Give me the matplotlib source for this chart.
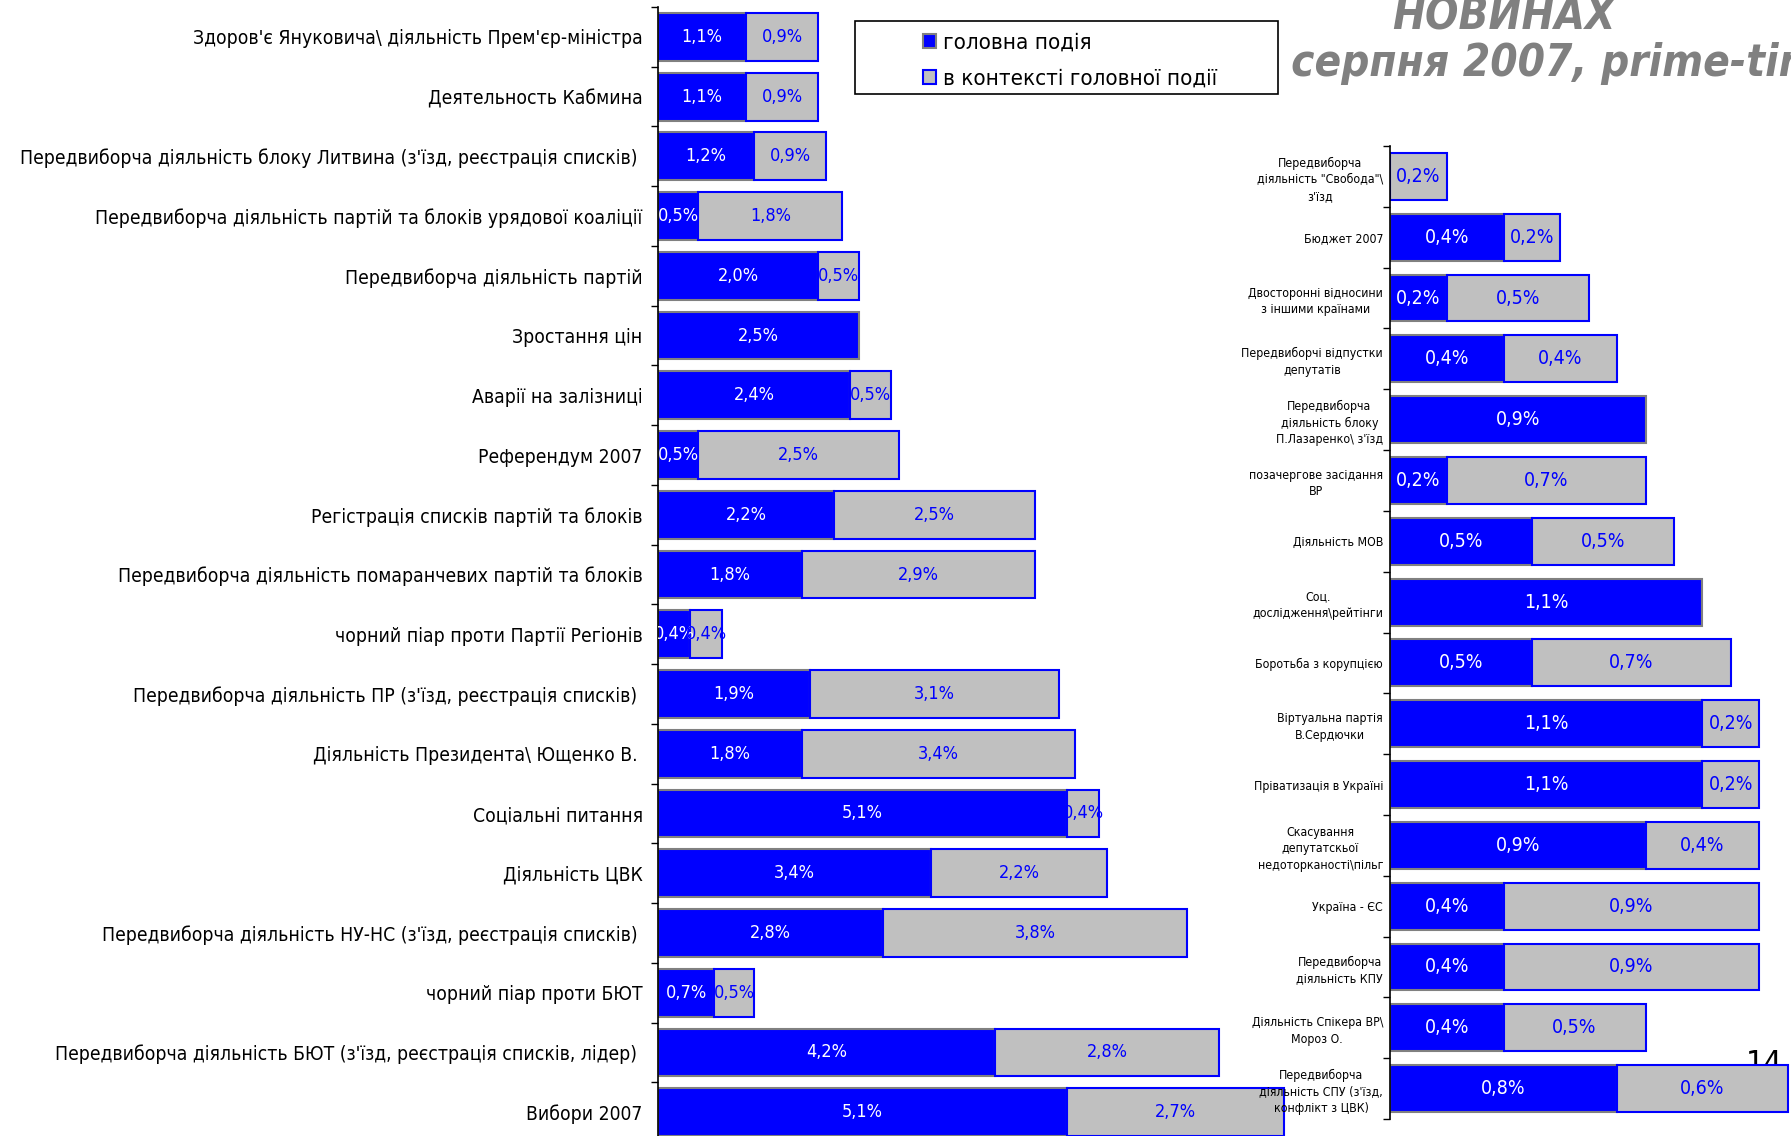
import matplotlib
matplotlib.use("Agg")
import matplotlib.pyplot as plt
import numpy as np
from matplotlib.patches import Patch, Rectangle

W, H = 1791, 1136

BLUE = "#0000FF"
GREY = "#C0C0C0"
EDGE_GREY = "#808080"
TITLE_GREY = "#808080"

left_labels = [
    "Здоров'є Януковича\\ діяльність Прем'єр-міністра",
    "Деятельность Кабмина",
    "Передвиборча діяльність блоку Литвина (з'їзд, реєстрація списків) ",
    "Передвиборча діяльність партій та блоків урядової коаліції",
    "Передвиборча діяльність партій",
    "Зростання цін",
    "Аварії на залізниці",
    "Референдум 2007",
    "Регістрація списків партій та блоків",
    "Передвиборча діяльність помаранчевих партій та блоків",
    "чорний піар проти Партії Регіонів",
    "Передвиборча діяльність ПР (з'їзд, реєстрація списків) ",
    "Діяльність Президента\\ Ющенко В. ",
    "Соціальні питання",
    "Діяльність ЦВК",
    "Передвиборча діяльність НУ-НС (з'їзд, реєстрація списків) ",
    "чорний піар проти БЮТ",
    "Передвиборча діяльність БЮТ (з'їзд, реєстрація списків, лідер) ",
    "Вибори 2007",
]
left_main = [1.1, 1.1, 1.2, 0.5, 2.0, 2.5, 2.4, 0.5, 2.2, 1.8,
             0.4, 1.9, 1.8, 5.1, 3.4, 2.8, 0.7, 4.2, 5.1]
left_context = [0.9, 0.9, 0.9, 1.8, 0.5, 0.0, 0.5, 2.5, 2.5, 2.9,
                0.4, 3.1, 3.4, 0.4, 2.2, 3.8, 0.5, 2.8, 2.7]

right_labels = [
    "Передвиборча\nдіяльність \"Свобода\"\\\nз'їзд",
    "Бюджет 2007",
    "Двосторонні відносини\nз іншими країнами",
    "Передвиборчі відпустки\nдепутатів",
    "Передвиборча\nдіяльність блоку\nП.Лазаренко\\ з'їзд",
    "позачергове засідання\nВР",
    "Діяльність МОВ",
    "Соц.\nдослідження\\рейтінги",
    "Боротьба з корупцією",
    "Віртуальна партія\nВ.Сердючки",
    "Пріватизація в Україні",
    "Скасування\nдепутатскьої\nнедоторканості\\пільг",
    "Україна - ЄС",
    "Передвиборча\nдіяльність КПУ",
    "Діяльність Спікера ВР\\\nМороз О.",
    "Передвиборча\nдіяльність СПУ (з'їзд,\nконфлікт з ЦВК)",
]
right_main = [0.0, 0.4, 0.2, 0.4, 0.9, 0.2, 0.5, 1.1,
              0.5, 1.1, 1.1, 0.9, 0.4, 0.4, 0.4, 0.8]
right_context = [0.2, 0.2, 0.5, 0.4, 0.0, 0.7, 0.5, 0.0,
                 0.7, 0.2, 0.2, 0.4, 0.9, 0.9, 0.5, 0.6]

legend_labels = ["головна подія", "в контексті головної події"]
title_lines = ["НОВИНАХ", "1 серпня 2007, prime-time"]
page_number = "14"

plt.rcParams["font.family"] = "DejaVu Sans"
plt.rcParams["font.stretch"] = "condensed"


def px_box(x0, y0, x1, y1):
    # pixel box measured from the top-left corner -> figure fraction rect
    return [x0 / W, 1 - y1 / H, (x1 - x0) / W, (y1 - y0) / H]


def fmt(v):
    return f"{v:.1f}%".replace(".", ",") if v > 0 else ""


def draw_panel(ax, labels, main, context, xmax, bar_h, label_size, value_size,
               pad, linespacing=1.2):
    n = len(labels)
    pos = np.arange(n)
    main = np.array(main)
    context = np.array(context)

    blue = ax.barh(pos, main, height=bar_h, color=BLUE,
                   edgecolor=EDGE_GREY, linewidth=1.5)
    grey = ax.barh(pos, context, left=main, height=bar_h, color=GREY,
                   edgecolor=BLUE, linewidth=1.5)
    for bars, vals in ((blue, main), (grey, context)):
        for rect, v in zip(bars, vals):
            if v == 0:
                rect.set_visible(False)

    ax.bar_label(blue, labels=[fmt(v) for v in main], label_type="center",
                 color="white", fontsize=value_size, clip_on=True)
    ax.bar_label(grey, labels=[fmt(v) for v in context], label_type="center",
                 color=BLUE, fontsize=value_size, clip_on=True)

    ax.set_ylim(n - 0.5, -0.5)
    ax.set_xlim(0, xmax)
    ax.set_yticks(pos, labels)
    ax.set_yticks(np.arange(n + 1) - 0.5, minor=True)
    ax.tick_params(axis="y", which="major", length=0, pad=pad, labelsize=label_size)
    ax.tick_params(axis="y", which="minor", length=5, width=1)
    for t in ax.get_yticklabels():
        t.set_multialignment("center")
        t.set_linespacing(linespacing)
    ax.xaxis.set_visible(False)
    for side in ("top", "right", "bottom"):
        ax.spines[side].set_visible(False)
    ax.spines["left"].set_linewidth(1.2)
    ax.patch.set_visible(False)


fig = plt.figure(figsize=(W / 100, H / 100), dpi=100)
fig.patch.set_facecolor("white")

# left chart: 0 at x=658, 80.2 px per percent
ax1 = fig.add_axes(px_box(658, 7, 1300, 1142))
draw_panel(ax1, left_labels, left_main, left_context,
           xmax=(1300 - 658) / 80.2, bar_h=0.8,
           label_size=13.9, value_size=13, pad=11)
ax1.set_zorder(0)

# right chart: 0 at x=1390, 284 px per percent
ax2 = fig.add_axes(px_box(1390, 146, 1791, 1119))
draw_panel(ax2, right_labels, right_main, right_context,
           xmax=(1791 - 1390) / 284, bar_h=0.77,
           label_size=8.8, value_size=14, pad=5, linespacing=1.35)
ax2.set_zorder(1)

# title (cut off by the slide edge in the source)
fig.text(1504 / W, 1 - 30 / H, title_lines[0], ha="center", va="baseline",
         fontsize=31.5, fontweight="bold", fontstyle="italic",
         color=TITLE_GREY, zorder=0.5)
fig.text(1250 / W, 1 - 76 / H, title_lines[1], ha="left", va="baseline",
         fontsize=31.5, fontweight="bold", fontstyle="italic",
         color=TITLE_GREY, zorder=0.5)

fig.text(1746 / W, 1 - 1073 / H, page_number, ha="left", va="baseline",
         fontsize=23, color="black", zorder=0.5)

# legend box
fig.add_artist(Rectangle((855 / W, 1 - 94 / H), (1278 - 855) / W, (94 - 21) / H,
                         transform=fig.transFigure, facecolor="white",
                         edgecolor="black", linewidth=1.2, zorder=4))
handles = [
    Patch(facecolor=BLUE, edgecolor=EDGE_GREY, linewidth=1.5),
    Patch(facecolor=GREY, edgecolor=BLUE, linewidth=1.5),
]
fig.legend(handles, legend_labels, loc="upper left",
           bbox_to_anchor=(923 / W, 1 - 32.5 / H), frameon=False,
           fontsize=16, handlelength=0.58, handleheight=0.58,
           handletextpad=0.3, labelspacing=0.72, borderpad=0,
           borderaxespad=0).set_zorder(5)

fig.savefig("out.png", dpi=100, facecolor="white")
